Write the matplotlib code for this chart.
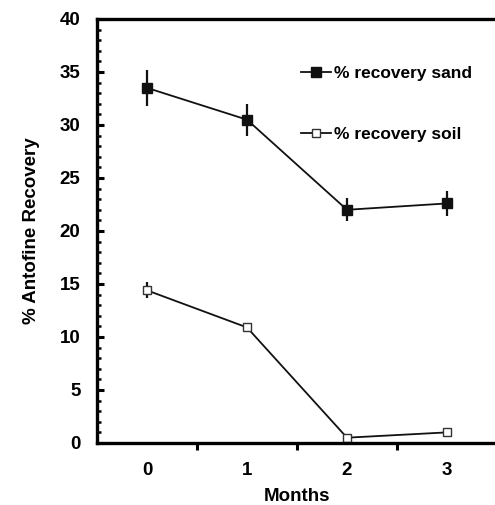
import matplotlib
matplotlib.use("Agg")
import matplotlib.pyplot as plt
from matplotlib.ticker import MultipleLocator

plt.rcParams['font.family'] = ['Liberation Sans', 'DejaVu Sans']
plt.rcParams['font.weight'] = 'bold'

# data
months = [0, 1, 2, 3]
sand = [33.5, 30.5, 22.0, 22.6]
sand_err = [1.7, 1.5, 1.1, 1.2]
soil = [14.4, 10.9, 0.5, 1.0]
soil_err = [0.75, 0.3, 0.2, 0.2]

fig = plt.figure(figsize=(4.95, 5.05), dpi=100)
ax = fig.add_axes([0.196, 0.1228, 0.808, 0.8396])

# error bars (no caps), then the lines/markers used for the legend
ax.errorbar(months, sand, yerr=sand_err, fmt='none', ecolor='#111111',
            elinewidth=1.6, capsize=0)
ax.errorbar(months, soil, yerr=soil_err, fmt='none', ecolor='#111111',
            elinewidth=1.6, capsize=0)
ax.plot(months, sand, color='#111111', lw=1.3, marker='s', ms=7.5,
        mfc='#111111', mec='#111111', label='% recovery sand')
ax.plot(months, soil, color='#111111', lw=1.3, marker='s', ms=6,
        mfc='white', mec='#333333', mew=1.0, label='% recovery soil')

ax.set_xlim(-0.5, 3.5)
ax.set_ylim(0, 40)

# x: ticks between categories, labels on the categories
ax.set_xticks([0.5, 1.5, 2.5])
ax.set_xticklabels([])
ax.set_xticks(months, minor=True)
ax.set_xticklabels([str(m) for m in months], minor=True)
ax.tick_params(axis='x', which='major', direction='out', length=5, width=2.2)
ax.tick_params(axis='x', which='minor', length=0, pad=14, labelsize=13.5)

ax.yaxis.set_major_locator(MultipleLocator(5))
ax.yaxis.set_minor_locator(MultipleLocator(1))
ax.tick_params(axis='y', which='major', direction='in', length=5, width=2.2, labelsize=13.5, pad=12)
ax.tick_params(axis='y', which='minor', direction='in', length=3, width=1.8)

for s in ['left', 'bottom', 'top']:
    ax.spines[s].set_linewidth(2.4)
ax.spines['right'].set_visible(False)

ax.set_xlabel('Months', fontsize=13.5, fontweight='bold', labelpad=6)
ax.set_ylabel('% Antofine Recovery', fontsize=13.5, fontweight='bold', labelpad=14)

ax.legend(loc='upper left', bbox_to_anchor=(0.47, 0.926), frameon=False,
          handlelength=1.75, handletextpad=0.15, labelspacing=2.65,
          prop={'weight': 'bold', 'size': 12.5})

fig.savefig('out.png', dpi=100)
